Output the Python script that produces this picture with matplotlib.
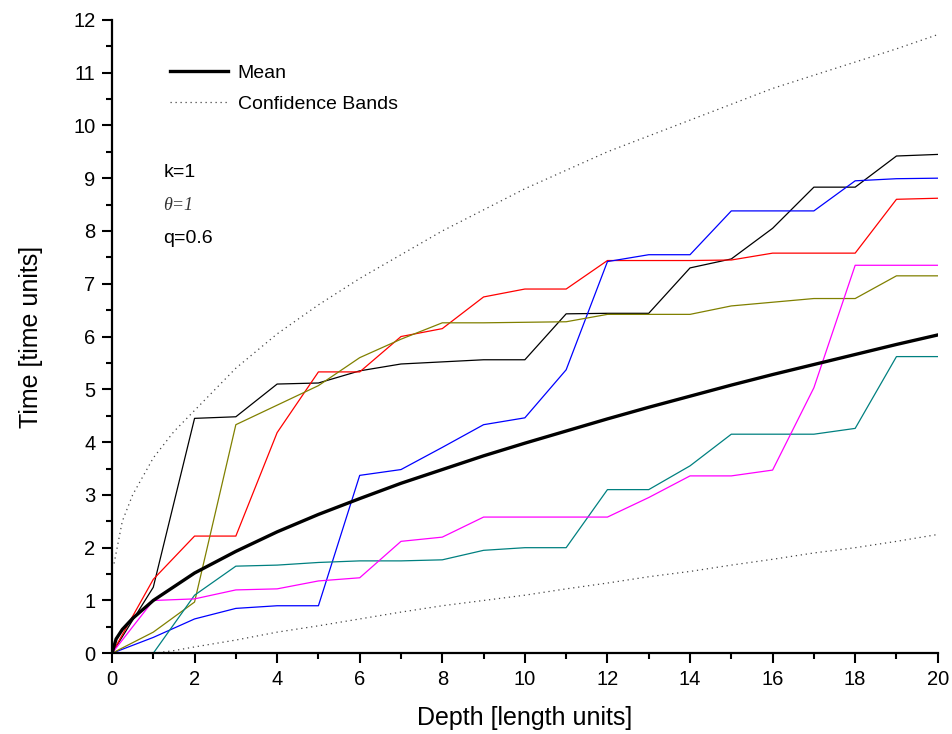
import matplotlib.pyplot as plt
import numpy as np
from matplotlib.ticker import MultipleLocator

plt.rcParams['font.family'] = ['Liberation Sans', 'DejaVu Sans']

# sample paths, one point per unit depth
depth = list(range(0, 21))
path_black = [0, 1.25, 4.45, 4.48, 5.1, 5.12, 5.35, 5.48, 5.52, 5.56, 5.56,
              6.43, 6.44, 6.44, 7.3, 7.47, 8.05, 8.83, 8.83, 9.42, 9.45]
path_red = [0, 1.4, 2.22, 2.22, 4.18, 5.33, 5.33, 6.0, 6.15, 6.75, 6.9,
            6.9, 7.44, 7.44, 7.44, 7.45, 7.58, 7.58, 7.58, 8.6, 8.62]
path_blue = [0, 0.3, 0.65, 0.85, 0.9, 0.9, 3.37, 3.48, 3.9, 4.33, 4.46,
             5.37, 7.42, 7.55, 7.55, 8.38, 8.38, 8.38, 8.95, 8.99, 9.0]
path_olive = [0, 0.4, 0.97, 4.33, 4.7, 5.07, 5.6, 5.95, 6.26, 6.26, 6.27,
              6.28, 6.42, 6.42, 6.42, 6.58, 6.65, 6.72, 6.72, 7.15, 7.15]
path_teal = [0, 0, 1.1, 1.65, 1.67, 1.72, 1.75, 1.75, 1.77, 1.95, 2.0,
             2.0, 3.1, 3.1, 3.55, 4.15, 4.15, 4.15, 4.26, 5.62, 5.62]
path_magenta = [0, 1.0, 1.03, 1.2, 1.22, 1.37, 1.43, 2.12, 2.2, 2.58, 2.58,
                2.58, 2.58, 2.95, 3.36, 3.36, 3.47, 5.03, 7.35, 7.35, 7.35]

# mean curve
mean_x = [0, 0.1, 0.25, 0.5, 1, 2, 3, 4, 5, 6, 7, 8, 9, 10,
          11, 12, 13, 14, 15, 16, 17, 18, 19, 20]
mean_y = [0, 0.27, 0.45, 0.66, 1.0, 1.52, 1.93, 2.3, 2.63, 2.93, 3.22, 3.48, 3.74, 3.98,
          4.21, 4.44, 4.66, 4.87, 5.08, 5.28, 5.47, 5.66, 5.85, 6.03]

# confidence bands
upper_x = [0.05, 0.25, 0.5, 1, 1.5, 2, 3, 4, 5, 6, 7, 8, 9, 10,
           11, 12, 13, 14, 15, 16, 17, 18, 19, 20]
upper_y = [1.7, 2.5, 3.0, 3.7, 4.2, 4.6, 5.4, 6.05, 6.6, 7.1, 7.55, 8.0, 8.4, 8.8,
           9.15, 9.5, 9.8, 10.1, 10.4, 10.7, 10.95, 11.2, 11.45, 11.72]
lower_x = [1, 1.5, 2, 3, 4, 5, 6, 7, 8, 9, 10,
           11, 12, 13, 14, 15, 16, 17, 18, 19, 20]
lower_y = [0.0, 0.05, 0.12, 0.25, 0.4, 0.52, 0.65, 0.78, 0.9, 1.0, 1.1,
           1.22, 1.33, 1.45, 1.55, 1.67, 1.78, 1.9, 2.0, 2.12, 2.25]

paths = [(path_black, '#000000'), (path_red, '#ff0000'), (path_blue, '#0000ff'),
         (path_olive, '#808000'), (path_teal, '#008080'), (path_magenta, '#ff00ff')]

fig = plt.figure(figsize=(9.53, 7.34), dpi=100)
ax = fig.add_axes([0.1175, 0.110, 0.8665, 0.863])

for ys, c in paths:
    ax.plot(depth, ys, color=c, linewidth=0.9)

ax.plot(upper_x, upper_y, color='#444444', linestyle=(0, (1, 3)), linewidth=0.9,
        label='Confidence Bands')
ax.plot(lower_x, lower_y, color='#444444', linestyle=(0, (1, 3)), linewidth=0.9)
ax.plot(mean_x, mean_y, color='black', linewidth=2.4, label='Mean')

ax.set_xlim(0, 20)
ax.set_ylim(0, 12)
ax.xaxis.set_major_locator(MultipleLocator(2))
ax.xaxis.set_minor_locator(MultipleLocator(1))
ax.yaxis.set_major_locator(MultipleLocator(1))
ax.yaxis.set_minor_locator(MultipleLocator(0.5))

for s in ['top', 'right']:
    ax.spines[s].set_visible(False)
for s in ['left', 'bottom']:
    ax.spines[s].set_linewidth(1.6)
ax.tick_params(which='major', direction='out', length=7, width=1.5, labelsize=14.5, pad=5)
ax.tick_params(which='minor', direction='out', length=4, width=1.5)

ax.set_xlabel('Depth [length units]', fontsize=18, labelpad=12)
ax.set_ylabel('Time [time units]', fontsize=18, labelpad=22)

handles, labels = ax.get_legend_handles_labels()
ax.legend(handles[::-1], labels[::-1], loc='upper left', bbox_to_anchor=(0.070, 0.930),
          frameon=False, fontsize=14, handlelength=3.0, handletextpad=0.5,
          labelspacing=0.68, borderpad=0, borderaxespad=0)

ax.text(0.062, (653 - 173) / 633, 'k=1', transform=ax.transAxes, fontsize=14, va='center')
ax.text(0.062, (653 - 206) / 633, 'θ=1', transform=ax.transAxes, fontsize=13,
        va='center', family='Liberation Serif', style='italic', color='#333333')
ax.text(0.062, (653 - 239) / 633, 'q=0.6', transform=ax.transAxes, fontsize=14, va='center')

fig.savefig('out.png', dpi=100)
